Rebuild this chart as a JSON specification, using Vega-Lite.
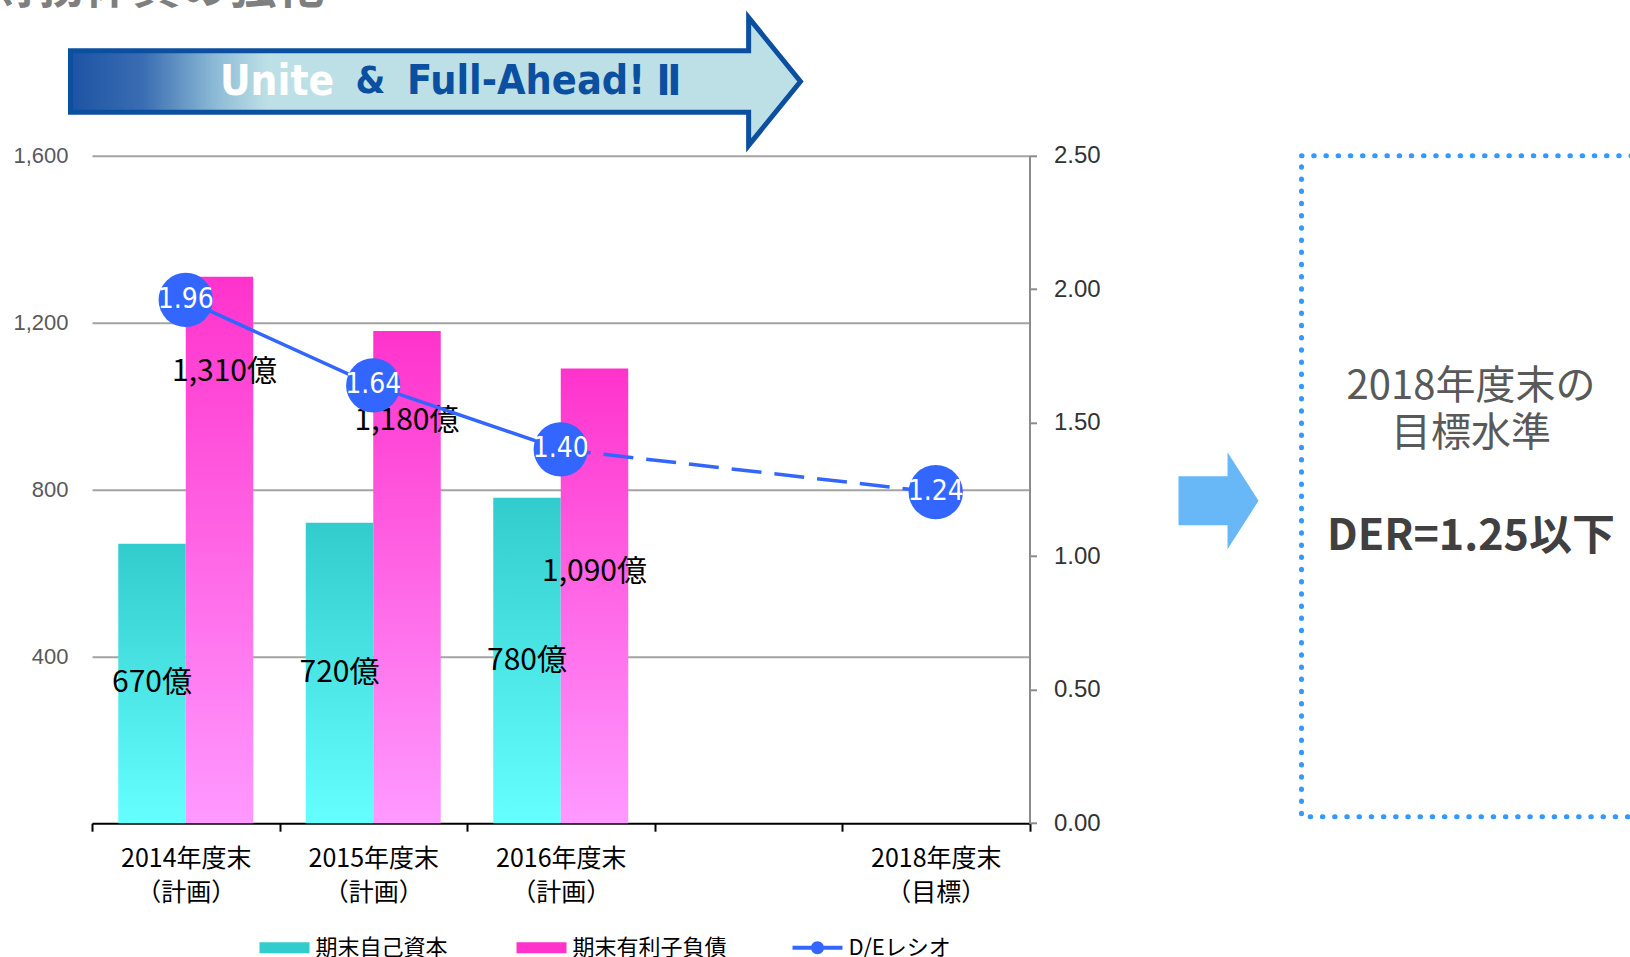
{
  "$schema": "https://vega.github.io/schema/vega-lite/v6.json",
  "background": "white",
  "padding": {"left": -12, "top": -35.5, "right": 0, "bottom": 0},
  "title": {
    "text": "財務体質の強化",
    "anchor": "start",
    "frame": "group",
    "dx": -103.5,
    "offset": -5.2,
    "fontSize": 48,
    "font": "Noto Sans CJK JP",
    "fontWeight": "bold",
    "color": "#7F7F7F"
  },
  "config": {
    "view": {"stroke": null},
    "font": "Noto Sans CJK JP",
    "text": {"font": "Noto Sans CJK JP"}
  },
  "datasets": {
    "fin": [
      {"cat": "2014", "series": "期末自己資本", "value": 670, "label": "670億"},
      {"cat": "2015", "series": "期末自己資本", "value": 720, "label": "720億"},
      {"cat": "2016", "series": "期末自己資本", "value": 780, "label": "780億"},
      {"cat": "2014", "series": "期末有利子負債", "value": 1310, "label": "1,310億"},
      {"cat": "2015", "series": "期末有利子負債", "value": 1180, "label": "1,180億"},
      {"cat": "2016", "series": "期末有利子負債", "value": 1090, "label": "1,090億"}
    ],
    "der": [
      {"cat": "2014", "series": "D/Eレシオ", "de": 1.96},
      {"cat": "2015", "series": "D/Eレシオ", "de": 1.64},
      {"cat": "2016", "series": "D/Eレシオ", "de": 1.40},
      {"cat": "2018", "series": "D/Eレシオ", "de": 1.24}
    ]
  },
  "vconcat": [
    {
      "width": 730,
      "height": 128,
      "view": {"stroke": null},
      "data": {"values": [{"part": "Unite"}, {"part": "&"}, {"part": "Full-Ahead!"}, {"part": "Ⅱ"}]},
      "layer": [
        {
          "transform": [{"filter": "datum.part == 'Unite'"}],
          "mark": {
            "type": "point",
            "shape": "M-1.059,-0.084L0.799,-0.084L0.799,-0.175L0.941,0L0.799,0.175L0.799,0.084L-1.059,0.084Z",
            "size": 532900,
            "filled": true,
            "opacity": 1,
            "fill": {
              "gradient": "linear", "x1": 0, "y1": 0, "x2": 1, "y2": 0,
              "stops": [
                {"offset": 0, "color": "#1D53A3"},
                {"offset": 0.1, "color": "#3A6DB2"},
                {"offset": 0.2, "color": "#8DBBD6"},
                {"offset": 0.27, "color": "#BDE0E6"},
                {"offset": 1, "color": "#BDE0E6"}
              ]
            },
            "stroke": "#0B4FA0",
            "strokeWidth": 5,
            "strokeJoin": "miter"
          },
          "encoding": {}
        },
        {
          "transform": [{"filter": "datum.part == 'Unite'"}],
          "mark": {"type": "text", "dx": -180, "align": "center", "baseline": "middle", "font": "DejaVu Sans Condensed, DejaVu Sans", "fontWeight": "bold", "fontSize": 42, "color": "#FFFFFF"},
          "encoding": {"text": {"field": "part"}}
        },
        {
          "transform": [{"filter": "datum.part == '&'"}],
          "mark": {"type": "text", "dx": -86.5, "align": "center", "baseline": "middle", "font": "DejaVu Sans Condensed, DejaVu Sans", "fontWeight": "bold", "fontSize": 38, "color": "#0B4FA0"},
          "encoding": {"text": {"field": "part"}}
        },
        {
          "transform": [{"filter": "datum.part == 'Full-Ahead!'"}],
          "mark": {"type": "text", "dx": 69, "align": "center", "baseline": "middle", "font": "DejaVu Sans Condensed, DejaVu Sans", "fontWeight": "bold", "fontSize": 41, "color": "#0B4FA0"},
          "encoding": {"text": {"field": "part"}}
        },
        {
          "transform": [{"filter": "datum.part == 'Ⅱ'"}],
          "mark": {"type": "text", "dx": 212, "align": "center", "baseline": "middle", "font": "DejaVu Sans Condensed, DejaVu Sans", "fontWeight": "bold", "fontSize": 42, "color": "#0B4FA0"},
          "encoding": {"text": {"field": "part"}}
        }
      ]
    },
    {
      "bounds": "flush",
      "spacing": 148.5,
      "hconcat": [
        {
          "width": 937.5,
          "height": 667.4,
          "encoding": {
            "x": {
              "field": "cat",
              "type": "nominal",
              "scale": {"domain": ["2014", "2015", "2016", "2017", "2018"], "paddingInner": 0, "paddingOuter": 0},
              "axis": {
                "orient": "bottom",
                "title": null,
                "grid": false,
                "domain": true,
                "domainColor": "#000000",
                "domainWidth": 2,
                "ticks": true,
                "tickBand": "extent",
                "tickColor": "#000000",
                "tickWidth": 2,
                "tickSize": 8,
                "labelAngle": 0,
                "labelOverlap": false,
                "labelFont": "Noto Sans CJK JP",
                "labelFontSize": 25,
                "labelColor": "#000000",
                "labelPadding": 15.5,
                "labelLineHeight": 34,
                "labelExpr": "(datum.value == null || datum.value == '2017') ? '' : [datum.value + '年度末', datum.value == '2018' ? '（目標）' : '（計画）']"
              }
            }
          },
          "layer": [
            {
              "data": {"name": "fin"},
              "transform": [{"filter": "datum.series == '期末自己資本'"}],
              "mark": {
                "type": "bar",
                "color": {
                  "gradient": "linear", "x1": 0, "y1": 0, "x2": 0, "y2": 1,
                  "stops": [{"offset": 0, "color": "#33CCCC"}, {"offset": 1, "color": "#66FFFF"}]
                }
              },
              "encoding": {
                "xOffset": {"field": "series", "type": "nominal", "scale": {"domain": ["期末自己資本", "期末有利子負債"], "paddingInner": 0, "paddingOuter": 0.389}},
                "y": {
                  "field": "value",
                  "type": "quantitative",
                  "scale": {"domain": [0, 1600]},
                  "axis": {
                    "orient": "left",
                    "title": null,
                    "values": [400, 800, 1200, 1600],
                    "format": ",.0f",
                    "grid": true,
                    "gridColor": "#A3A3A3",
                    "gridWidth": 2,
                    "domain": false,
                    "ticks": false,
                    "labelFont": "Liberation Sans",
                    "labelFontSize": 22,
                    "labelColor": "#595959",
                    "labelPadding": 24
                  }
                }
              }
            },
            {
              "data": {"name": "fin"},
              "transform": [{"filter": "datum.series == '期末有利子負債'"}],
              "mark": {
                "type": "bar",
                "color": {
                  "gradient": "linear", "x1": 0, "y1": 0, "x2": 0, "y2": 1,
                  "stops": [{"offset": 0, "color": "#FF33CC"}, {"offset": 1, "color": "#FF99FF"}]
                }
              },
              "encoding": {
                "xOffset": {"field": "series", "type": "nominal", "scale": {"domain": ["期末自己資本", "期末有利子負債"], "paddingInner": 0, "paddingOuter": 0.389}},
                "y": {"field": "value", "type": "quantitative", "scale": {"domain": [0, 1600]}, "axis": null}
              }
            },
            {
              "data": {"name": "fin"},
              "transform": [{"filter": "datum.series == '期末自己資本'"}],
              "mark": {"type": "text", "align": "center", "baseline": "middle", "fontSize": 30, "color": "#000000"},
              "encoding": {
                "xOffset": {"field": "series", "type": "nominal", "scale": {"domain": ["期末自己資本", "期末有利子負債"], "paddingInner": 0, "paddingOuter": 0.389}},
                "y": {"field": "value", "type": "quantitative", "scale": {"domain": [0, 3200]}, "axis": null},
                "text": {"field": "label"}
              }
            },
            {
              "data": {"name": "fin"},
              "transform": [{"filter": "datum.series == '期末有利子負債' && datum.cat == '2014'"}],
              "mark": {"type": "text", "align": "center", "baseline": "middle", "fontSize": 30, "color": "#000000", "dy": 95.5, "dx": 5},
              "encoding": {
                "xOffset": {"field": "series", "type": "nominal", "scale": {"domain": ["期末自己資本", "期末有利子負債"], "paddingInner": 0, "paddingOuter": 0.389}},
                "y": {"field": "value", "type": "quantitative", "scale": {"domain": [0, 1600]}, "axis": null},
                "text": {"field": "label"}
              }
            },
            {
              "data": {"name": "fin"},
              "transform": [{"filter": "datum.series == '期末有利子負債' && datum.cat == '2015'"}],
              "mark": {"type": "text", "align": "center", "baseline": "middle", "fontSize": 30, "color": "#000000", "dy": 90.5},
              "encoding": {
                "xOffset": {"field": "series", "type": "nominal", "scale": {"domain": ["期末自己資本", "期末有利子負債"], "paddingInner": 0, "paddingOuter": 0.389}},
                "y": {"field": "value", "type": "quantitative", "scale": {"domain": [0, 1600]}, "axis": null},
                "text": {"field": "label"}
              }
            },
            {
              "data": {"name": "fin"},
              "transform": [{"filter": "datum.series == '期末有利子負債' && datum.cat == '2016'"}],
              "mark": {"type": "text", "align": "center", "baseline": "middle", "fontSize": 30, "color": "#000000", "dy": 203.5},
              "encoding": {
                "xOffset": {"field": "series", "type": "nominal", "scale": {"domain": ["期末自己資本", "期末有利子負債"], "paddingInner": 0, "paddingOuter": 0.389}},
                "y": {"field": "value", "type": "quantitative", "scale": {"domain": [0, 1600]}, "axis": null},
                "text": {"field": "label"}
              }
            },
            {
              "data": {"name": "der"},
              "transform": [{"filter": "datum.cat != '2018'"}],
              "mark": {"type": "line", "color": "#3366FF", "strokeWidth": 3.5},
              "encoding": {
                "y": {
                  "field": "de",
                  "type": "quantitative",
                  "scale": {"domain": [0, 2.5]},
                  "axis": {
                    "orient": "right",
                    "title": null,
                    "values": [0, 0.5, 1, 1.5, 2, 2.5],
                    "format": ".2f",
                    "grid": false,
                    "domain": true,
                    "domainColor": "#8C8C8C",
                    "domainWidth": 2,
                    "ticks": true,
                    "tickColor": "#8C8C8C",
                    "tickWidth": 2,
                    "tickSize": 7,
                    "labelFont": "Liberation Sans",
                    "labelFontSize": 24,
                    "labelColor": "#333333",
                    "labelPadding": 17
                  }
                }
              }
            },
            {
              "data": {"name": "der"},
              "transform": [{"filter": "datum.cat == '2016' || datum.cat == '2018'"}],
              "mark": {"type": "line", "color": "#3366FF", "strokeWidth": 3.5, "strokeDash": [30, 13]},
              "encoding": {
                "y": {"field": "de", "type": "quantitative", "scale": {"domain": [0, 2.5]}, "axis": null}
              }
            },
            {
              "data": {"name": "der"},
              "mark": {"type": "circle", "size": 2950, "opacity": 1},
              "encoding": {
                "y": {"field": "de", "type": "quantitative", "scale": {"domain": [0, 2.5]}, "axis": null},
                "color": {
                  "field": "series",
                  "type": "nominal",
                  "scale": {"domain": ["D/Eレシオ"], "range": ["#3366FF"]},
                  "legend": {
                    "orient": "none",
                    "legendX": 700.5,
                    "legendY": 767,
                    "direction": "horizontal",
                    "title": null,
                    "padding": 0,
                    "symbolType": "M-1,-0.08H1V0.08H-1Z M-0.26,0A0.26,0.26 0 1,1 0.26,0A0.26,0.26 0 1,1 -0.26,0Z",
                    "symbolSize": 2500,
                    "symbolStrokeWidth": 0,
                    "symbolOpacity": 1,
                    "labelOffset": 6,
                    "labelFont": "Noto Sans CJK JP",
                    "labelFontSize": 22,
                    "labelColor": "#000000"
                  }
                }
              }
            },
            {
              "data": {"name": "der"},
              "mark": {"type": "text", "align": "center", "baseline": "middle", "font": "DejaVu Sans Condensed, DejaVu Sans", "fontSize": 28, "color": "#FFFFFF"},
              "encoding": {
                "y": {"field": "de", "type": "quantitative", "scale": {"domain": [0, 2.5]}, "axis": null},
                "text": {"field": "de", "type": "quantitative", "format": ".2f"}
              }
            },
            {
              "data": {"name": "fin"},
              "mark": {"type": "circle", "opacity": 0},
              "encoding": {
                "color": {
                  "field": "series",
                  "type": "nominal",
                  "scale": {"domain": ["期末自己資本", "期末有利子負債"], "range": ["#33CCCC", "#FF33CC"]},
                  "legend": {
                    "orient": "none",
                    "legendX": 167.5,
                    "legendY": 767,
                    "direction": "horizontal",
                    "title": null,
                    "padding": 0,
                    "columnPadding": 68,
                    "symbolType": "M-1,-0.22H1V0.22H-1Z",
                    "symbolSize": 2500,
                    "symbolStrokeWidth": 0,
                    "symbolOpacity": 1,
                    "labelOffset": 6,
                    "labelFont": "Noto Sans CJK JP",
                    "labelFontSize": 22,
                    "labelColor": "#000000"
                  }
                }
              }
            }
          ],
          "resolve": {"scale": {"y": "independent", "color": "independent"}}
        },
        {
          "bounds": "flush",
          "spacing": 43,
          "hconcat": [
            {
              "width": 80,
              "height": 690,
              "view": {"stroke": null},
              "data": {"values": [{"shape": "arrow"}]},
              "mark": {
                "type": "point",
                "shape": "M-0.825,-0.505L0.186,-0.505L0.186,-1L0.825,0L0.186,1L0.186,0.505L-0.825,0.505Z",
                "size": 9409,
                "filled": true,
                "fill": "#68B8F8",
                "opacity": 1,
                "strokeWidth": 0
              },
              "encoding": {}
            },
            {
              "width": 339,
              "height": 661,
              "view": {"stroke": "#3399FF", "strokeWidth": 5, "strokeDash": [0.5, 11.7], "strokeCap": "round", "fill": null},
              "data": {"values": [{"line1": "2018年度末の", "line2": "目標水準", "target": "DER=1.25以下"}]},
              "layer": [
                {
                  "mark": {"type": "text", "fontSize": 40, "color": "#595959", "align": "center", "baseline": "middle", "dy": -99.5},
                  "encoding": {"text": {"field": "line1"}}
                },
                {
                  "mark": {"type": "text", "fontSize": 40, "color": "#595959", "align": "center", "baseline": "middle", "dy": -52},
                  "encoding": {"text": {"field": "line2"}}
                },
                {
                  "mark": {"type": "text", "fontSize": 43, "fontWeight": "bold", "color": "#404040", "align": "center", "baseline": "middle", "dy": 50.5},
                  "encoding": {"text": {"field": "target"}}
                }
              ]
            }
          ]
        }
      ]
    }
  ],
  "spacing": 10.3,
  "bounds": "flush"
}
